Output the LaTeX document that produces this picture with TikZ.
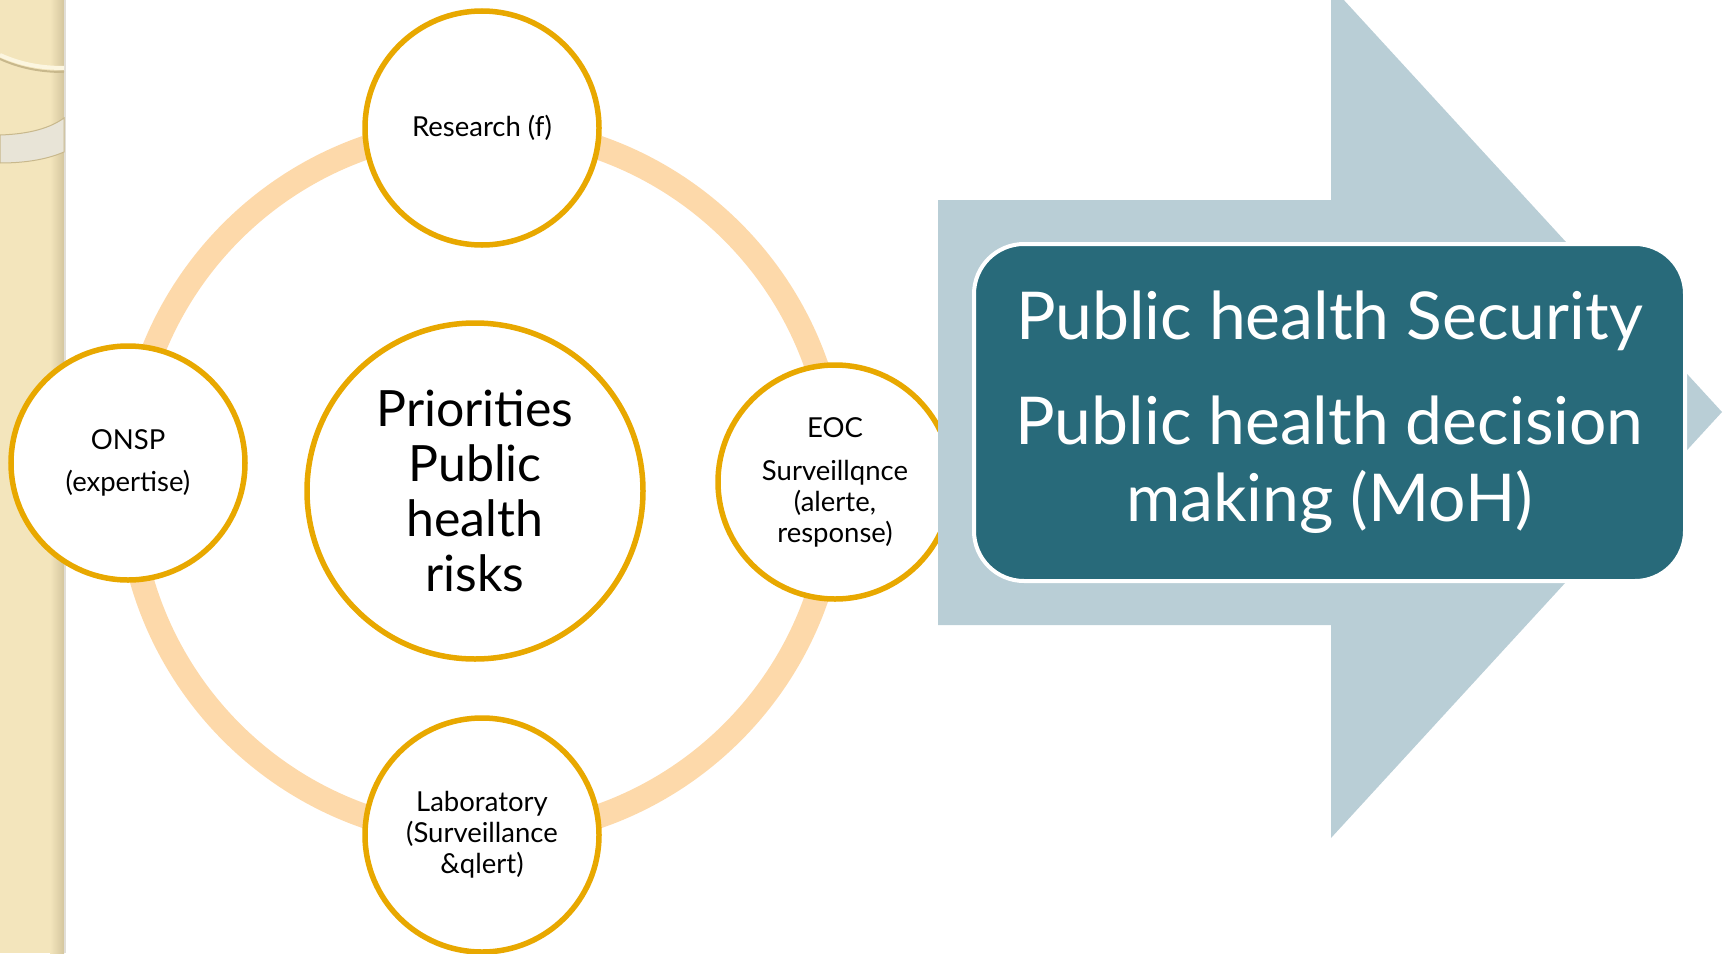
\documentclass[tikz,border=0pt]{standalone}
\usepackage{fontspec}
\setmainfont{Lato}
\definecolor{stripbeige}{RGB}{243,229,188}
\definecolor{stripedge}{RGB}{212,198,158}
\definecolor{stripline}{RGB}{225,222,215}
\definecolor{creamarc}{RGB}{252,246,224}
\definecolor{arcshadow}{RGB}{200,184,140}
\definecolor{bandgray}{RGB}{232,228,215}
\definecolor{ringc}{RGB}{253,217,170}
\definecolor{orangec}{RGB}{232,168,0}
\definecolor{arrowc}{RGB}{185,206,214}
\definecolor{tealc}{RGB}{40,106,122}
\tikzset{
  smallc/.style={circle, draw=orangec, line width=5.5pt, fill=white, minimum size=234pt, inner sep=0pt, align=center, font=\fontsize{27.5}{31}\selectfont},
  bigc/.style={circle, draw=orangec, line width=5.5pt, fill=white, minimum size=336pt, inner sep=0pt, align=center, font=\fontsize{50}{55}\selectfont},
  boxc/.style={draw=white, line width=4pt, fill=tealc, rounded corners=50pt, minimum width=711pt, minimum height=337pt, inner sep=0pt, align=center, text=white, font=\fontsize{66}{77}\selectfont}
}
\begin{document}
\begin{tikzpicture}[x=1pt,y=-1pt]
\useasboundingbox (0,0) rectangle (1729,953);
% left decorative strip
\fill[stripbeige] (0,0) rectangle (66,953);
\shade[left color=stripbeige, right color=stripedge] (50,0) rectangle (64,953);
\fill[stripline] (64,0) rectangle (66,953);
\draw[arcshadow, line width=2pt] (0,59) .. controls (20,68) and (40,72) .. (64,72);
\draw[creamarc, line width=4pt] (0,55) .. controls (20,64) and (40,68) .. (64,68);
\fill[bandgray, draw=arcshadow, line width=1pt] (0,135) .. controls (30,134) and (50,128) .. (64,118) -- (64,152) .. controls (50,158) and (30,163) .. (0,163) -- cycle;
% ring
\draw[ringc, line width=24pt] (482,482) circle (354pt);
% circles
\node[bigc] (center) at (475,491) {Priorities\\Public\\health\\risks};
\node[smallc] (research) at (482,128) {Research (f)};
\node[smallc] (lab) at (482,835) {Laboratory\\(Surveillance\\\&qlert)};
\node[smallc] (onsp) at (128,463) {ONSP\\[11pt](expertise)};
\node[smallc] (eoc) at (835,482) {EOC\\[12pt]Surveillqnce\\(alerte,\\response)};
% big arrow
\fill[arrowc] (938,200) -- (1331,200) -- (1331,-14) -- (1722,412) -- (1331,838) -- (1331,625) -- (938,625) -- cycle;
% box
\node[boxc] (box) at (1329.5,412.5) {Public health Security\\[28pt]Public health decision\\making (MoH)};
\end{tikzpicture}
\end{document}
